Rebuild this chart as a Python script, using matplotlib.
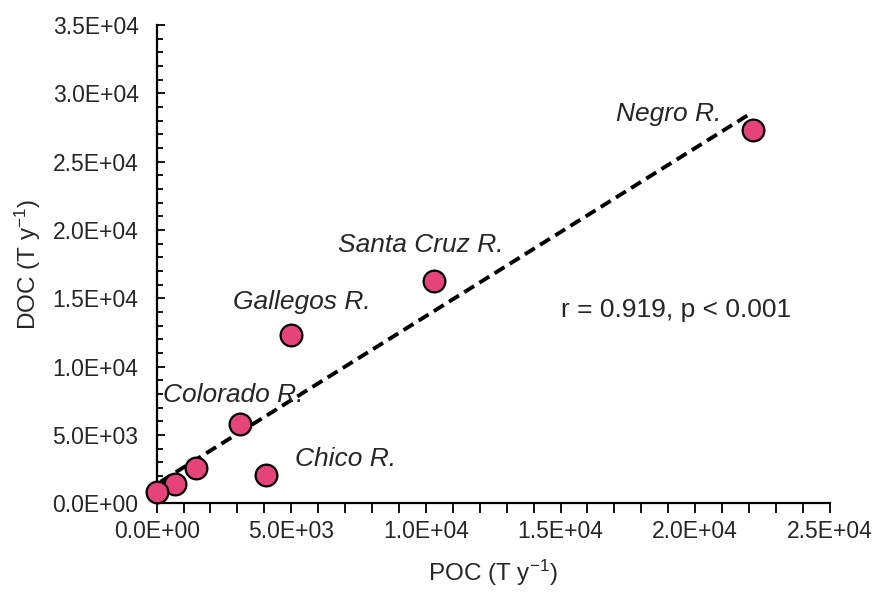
import numpy as np
import matplotlib
matplotlib.use("Agg")
import matplotlib.pyplot as plt
from matplotlib.ticker import MultipleLocator, FuncFormatter

# River carbon loads (T y-1)
rivers = ["Negro R.", "Santa Cruz R.", "Gallegos R.", "Colorado R.", "Chico R.",
          "", "", ""]
poc = [22150, 10300, 4980, 3090, 4050, 1450, 670, 0]
doc = [27300, 16250, 12300, 5830, 2050, 2600, 1390, 830]

label_pos = {
    "Negro R.": (19000, 28450),
    "Santa Cruz R.": (9800, 18900),
    "Gallegos R.": (5400, 14700),
    "Colorado R.": (2850, 7950),
    "Chico R.": (7000, 3200),
}
stats_text = "r = 0.919, p < 0.001"

plt.rcParams["font.family"] = ["Liberation Sans", "DejaVu Sans"]
plt.rcParams["mathtext.default"] = "regular"
text_color = "#262626"

fig = plt.figure(figsize=(8.8, 5.92), dpi=100)
ax = fig.add_axes([0.178, 0.150, 0.765, 0.808])

# least-squares trend line
slope, intercept = np.polyfit(poc, doc, 1)
xl = np.array([150, 22100])
ax.plot(xl, slope * xl + intercept, ls=(0, (3, 1.6)), color="black", lw=2.8, zorder=2)

ax.scatter(poc, doc, s=245, color="#E6437B", edgecolor="black", linewidth=1.6,
           zorder=3, clip_on=False)

for name, (lx, ly) in label_pos.items():
    ax.text(lx, ly, name, fontsize=19, style="italic", color=text_color,
            ha="center", va="center")
ax.text(0.771, 0.403, stats_text, transform=ax.transAxes, fontsize=19,
        color=text_color, ha="center", va="center")

ax.set_xlim(0, 25000)
ax.set_ylim(0, 35000)
ax.xaxis.set_major_locator(MultipleLocator(5000))
ax.xaxis.set_minor_locator(MultipleLocator(1000))
ax.yaxis.set_major_locator(MultipleLocator(5000))
ax.yaxis.set_minor_locator(MultipleLocator(1000))

def sci(v, pos):
    m, e = f"{v:.1E}".split("E")
    return f"{m}E{e[0]}{int(e[1:]):02d}"

ax.xaxis.set_major_formatter(FuncFormatter(sci))
ax.yaxis.set_major_formatter(FuncFormatter(sci))

for s in ("top", "right"):
    ax.spines[s].set_visible(False)
for s in ("left", "bottom"):
    ax.spines[s].set_linewidth(1.6)

ax.tick_params(axis="x", which="both", direction="out", width=1.3, labelsize=16.5,
               labelcolor=text_color, pad=5)
ax.tick_params(axis="x", which="major", length=7)
ax.tick_params(axis="x", which="minor", length=7)
ax.tick_params(axis="y", which="both", direction="in", width=1.3, labelsize=16.5,
               labelcolor=text_color, pad=13)
ax.tick_params(axis="y", which="major", length=6)
ax.tick_params(axis="y", which="minor", length=4)

ax.set_xlabel("POC (T y$^{-1}$)", fontsize=17.5, color=text_color, labelpad=11)
ax.set_ylabel("DOC (T y$^{-1}$)", fontsize=17.5, color=text_color, labelpad=7)

fig.savefig("out.png", dpi=100, facecolor="white")
